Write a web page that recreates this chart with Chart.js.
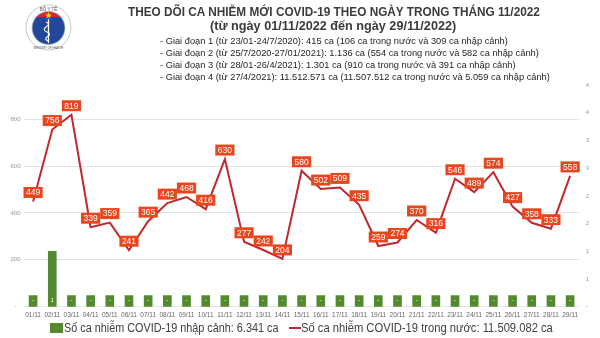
<!DOCTYPE html>
<html>
<head>
<meta charset="utf-8">
<script src="https://cdn.jsdelivr.net/npm/chart.js@4/dist/chart.umd.min.js"></script>
<style>
  html, body { margin: 0; padding: 0; background: #fff; }
  #wrap { position: relative; width: 600px; height: 338px; overflow: hidden; font-family: "Liberation Sans", Arial, sans-serif; }
  #c { position: absolute; left: 0; top: 0; }
  .txt { position: absolute; white-space: nowrap; line-height: 1; transform-origin: 0 50%; }
  .t1 { font-weight: bold; font-size: 13px; color: #3b3b3b; }
  .t2 { font-weight: bold; font-size: 12.5px; color: #3b3b3b; }
  .bl { font-size: 9.5px; color: #262626; }
  .lg { font-size: 12px; color: #404040; }
  #logo { position: absolute; left: 25px; top: 3px; }
</style>
</head>
<body>
<div id="wrap">
  <canvas id="c" width="600" height="338"></canvas>

  <svg id="logo" width="47" height="50" viewBox="0 0 47 50">
    <circle cx="23.5" cy="24.5" r="22.5" fill="#fff" stroke="#c9c9c9" stroke-width="1"/>
    <text x="23.5" y="8" font-size="4.5" text-anchor="middle" fill="#555" font-family="Liberation Sans">BỘ Y TẾ</text>
    <clipPath id="inner"><circle cx="23.5" cy="25" r="16.5"/></clipPath>
    <g clip-path="url(#inner)">
      <rect x="0" y="0" width="47" height="50" fill="#22489a"/>
      <rect x="0" y="0" width="47" height="14" fill="#d8262f"/>
      <polygon points="23.5,9 24.4,11.6 27,11.6 24.9,13.1 25.7,15.6 23.5,14.1 21.3,15.6 22.1,13.1 20,11.6 22.6,11.6" fill="#f5d20a"/>
      <line x1="23.5" y1="16" x2="23.5" y2="40" stroke="#fff" stroke-width="1.3"/>
      <path d="M21 19 q5 2 0 5 q-4 3 1 5 q5 2 0 5 q-3 2 1 4" stroke="#fff" stroke-width="1.1" fill="none"/>
    </g>
    <circle cx="23.5" cy="25" r="16.5" fill="none" stroke="#b7b7b7" stroke-width="0.8"/>
    <text x="23.5" y="45.5" font-size="2.8" text-anchor="middle" fill="#555" font-family="Liberation Sans">MINISTRY OF HEALTH</text>
  </svg>

  <div class="txt t1" id="title1">THEO DÕI CA NHIỄM MỚI COVID-19 THEO NGÀY TRONG THÁNG 11/2022</div>
  <div class="txt t2" id="title2">(từ ngày 01/11/2022 đến ngày 29/11/2022)</div>
  <div class="txt bl" id="b1">- Giai đoạn 1 (từ 23/01-24/7/2020): 415 ca (106 ca trong nước và 309 ca nhập cảnh)</div>
  <div class="txt bl" id="b2">- Giai đoạn 2 (từ 25/7/2020-27/01/2021): 1.136 ca (554 ca trong nước và 582 ca nhập cảnh)</div>
  <div class="txt bl" id="b3">- Giai đoạn 3 (từ 28/01-26/4/2021): 1.301 ca (910 ca trong nước và 391 ca nhập cảnh)</div>
  <div class="txt bl" id="b4">- Giai đoạn 4 (từ 27/4/2021): 11.512.571 ca (11.507.512 ca trong nước và 5.059 ca nhập cảnh)</div>

  <div style="position:absolute;left:50px;top:323px;width:13px;height:10px;background:#538a2f"></div>
  <div class="txt lg" id="lg1"></div>
  <div style="position:absolute;left:289px;top:327px;width:12px;height:2px;background:#c0282d"></div>
  <div class="txt lg" id="lg2"></div>
</div>

<script>
const days = ['01/11','02/11','03/11','04/11','05/11','06/11','07/11','08/11','09/11','10/11',
              '11/11','12/11','13/11','14/11','15/11','16/11','17/11','18/11','19/11','20/11',
              '21/11','22/11','23/11','24/11','25/11','26/11','27/11','28/11','29/11'];
// ca trong nước
const domestic = [449, 756, 819, 339, 359, 241, 365, 442, 468, 416,
                  630, 277, 242, 204, 580, 502, 509, 435, 259, 274,
                  370, 316, 546, 489, 574, 427, 358, 333, 558];
// ca nhập cảnh
const imported = [0, 1, 0, 0, 0, 0, 0, 0, 0, 0,
                  0, 0, 0, 0, 0, 0, 0, 0, 0, 0,
                  0, 0, 0, 0, 0, 0, 0, 0, 0];
const importedLabel = 'Số ca nhiễm COVID-19 nhập cảnh: 6.341 ca';
const domesticLabel = 'Số ca nhiễm COVID-19 trong nước: 11.509.082 ca';
const leftGridValues = [200, 400, 600, 800];

const GREEN = '#538a2f';
const RED = '#c0282d';
const TAG = '#e8461e';

// squeeze a text element into a given width
function fit(id, left, centerY, width) {
  const el = document.getElementById(id);
  el.style.left = left + 'px';
  el.style.top = (centerY - el.offsetHeight / 2) + 'px';
  if (width) el.style.transform = 'scaleX(' + (width / el.offsetWidth) + ')';
  return el;
}

document.getElementById('lg1').textContent = importedLabel;
document.getElementById('lg2').textContent = domesticLabel;
fit('title1', 128, 11, 412);
fit('title2', 210, 26, 246);
const b4 = document.getElementById('b4');
const bulletScale = 390 / b4.offsetWidth;
['b1', 'b2', 'b3', 'b4'].forEach((id, i) => {
  const el = fit(id, 160, 41 + i * 12);
  el.style.transform = 'scaleX(' + bulletScale + ')';
});
fit('lg1', 64, 328, 214);
fit('lg2', 301, 328, 252);

// orange value tags above the line, small white labels on the bars
const valueTags = {
  id: 'valueTags',
  afterDatasetsDraw(chart) {
    const ctx = chart.ctx;
    ctx.save();
    ctx.textAlign = 'center';
    ctx.textBaseline = 'middle';

    const bars = chart.getDatasetMeta(0).data;
    ctx.font = '6px "Liberation Sans"';
    ctx.fillStyle = '#fff';
    bars.forEach((bar, i) => {
      const v = imported[i];
      ctx.fillText(v === 0 ? '-' : String(v), bar.x, bar.base - 6);
    });

    const pts = chart.getDatasetMeta(1).data;
    ctx.font = '8.5px "Liberation Sans"';
    pts.forEach((pt, i) => {
      const txt = String(domestic[i]);
      const w = ctx.measureText(txt).width + 5;
      const cy = pt.y - 9;
      ctx.fillStyle = TAG;
      ctx.fillRect(pt.x - w / 2, cy - 5.5, w, 11);
      ctx.fillStyle = '#fff';
      ctx.fillText(txt, pt.x, cy + 0.5);
    });
    ctx.restore();
  }
};

new Chart(document.getElementById('c'), {
  data: {
    labels: days,
    datasets: [{
      type: 'bar',
      label: importedLabel,
      data: imported,
      yAxisID: 'y1',
      backgroundColor: GREEN,
      barThickness: 8,
      minBarLength: 11,
      order: 2
    }, {
      type: 'line',
      label: domesticLabel,
      data: domestic,
      yAxisID: 'y',
      borderColor: RED,
      borderWidth: 2,
      pointRadius: 0,
      tension: 0,
      order: 1
    }]
  },
  options: {
    responsive: false,
    animation: false,
    layout: { padding: { top: 85, left: 0, right: 0, bottom: 0 } },
    plugins: { legend: { display: false }, tooltip: { enabled: false } },
    scales: {
      x: {
        grid: { display: false, drawTicks: false },
        border: { display: false },
        ticks: { font: { size: 6.5, family: 'Liberation Sans' }, color: '#666', padding: 5, maxRotation: 0, autoSkip: false },
        afterFit: s => { s.height = 31.3; }
      },
      y: {
        position: 'left',
        min: 0,
        max: 946,
        ticks: {
          stepSize: 200,
          font: { size: 6, family: 'Liberation Sans' },
          color: '#999',
          crossAlign: 'center',
          callback: v => v === 0 ? '-' : (v % 200 === 0 ? v : '')
        },
        grid: {
          drawTicks: false,
          color: c => leftGridValues.includes(c.tick.value) ? '#e3e3e3' : (c.tick.value === 0 ? '#e8e8e8' : 'rgba(0,0,0,0)'),
          lineWidth: 1
        },
        border: { display: false },
        afterFit: s => { s.width = 23.5; }
      },
      y1: {
        position: 'right',
        min: 0,
        max: 4,
        ticks: {
          stepSize: 0.5,
          font: { size: 6, family: 'Liberation Sans' },
          color: '#999',
          crossAlign: 'near',
          padding: 6,
          callback: v => v === 0 ? '-' : Math.round(v)
        },
        grid: { display: false, drawTicks: false },
        border: { display: false },
        afterFit: s => { s.width = 20.3; }
      }
    }
  },
  plugins: [valueTags]
});
</script>
</body>
</html>
